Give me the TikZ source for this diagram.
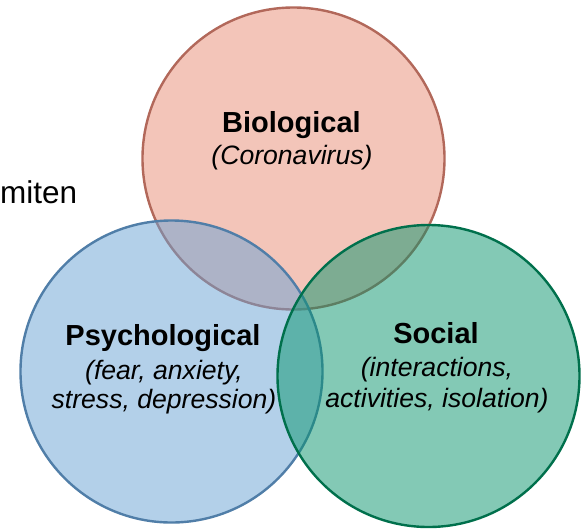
\documentclass[tikz,border=0pt]{standalone}
\usepackage{fontspec}
\setmainfont{Liberation Sans}
\definecolor{bioFill}{RGB}{233,141,117}
\definecolor{bioLine}{RGB}{178,104,90}
\definecolor{psyFill}{RGB}{105,163,213}
\definecolor{psyLine}{RGB}{80,126,168}
\definecolor{socFill}{RGB}{9,149,109}
\definecolor{socLine}{RGB}{0,112,76}
\tikzset{
  venn/.style={line width=2.4pt, fill opacity=0.5},
  titletext/.style={inner sep=0pt, anchor=base, font=\fontsize{29}{34}\selectfont\bfseries},
  subtext/.style={inner sep=0pt, anchor=base, font=\fontsize{26.6}{30}\selectfont\itshape},
  plaintext/.style={inner sep=0pt, anchor=base west, font=\fontsize{31.5}{36}\selectfont}
}
\begin{document}
\begin{tikzpicture}[x=1pt,y=-1pt]
\useasboundingbox (0,0) rectangle (583,528);
\fill[white] (0,0) rectangle (583,528);
\node[plaintext] (miten) at (0,203) {miten};
\draw[venn, draw=bioLine, fill=bioFill] (293.5,158.5) circle[radius=151pt];
\draw[venn, draw=psyLine, fill=psyFill] (171.5,371.5) circle[radius=151pt];
\draw[venn, draw=socLine, fill=socFill] (428.5,376) circle[radius=151pt];
\node[titletext] (bio) at (291.5,132) {Biological};
\node[subtext] (biosub) at (292,164) {(Coronavirus)};
\node[titletext] (psy) at (163,345) {Psychological};
\node[subtext] (psysub1) at (164,379) {(fear, anxiety,};
\node[subtext] (psysub2) at (164,408) {stress, depression)};
\node[titletext] (soc) at (436,343) {Social};
\node[subtext] (socsub1) at (437,376) {(interactions,};
\node[subtext] (socsub2) at (437,407) {activities, isolation)};
\end{tikzpicture}
\end{document}
